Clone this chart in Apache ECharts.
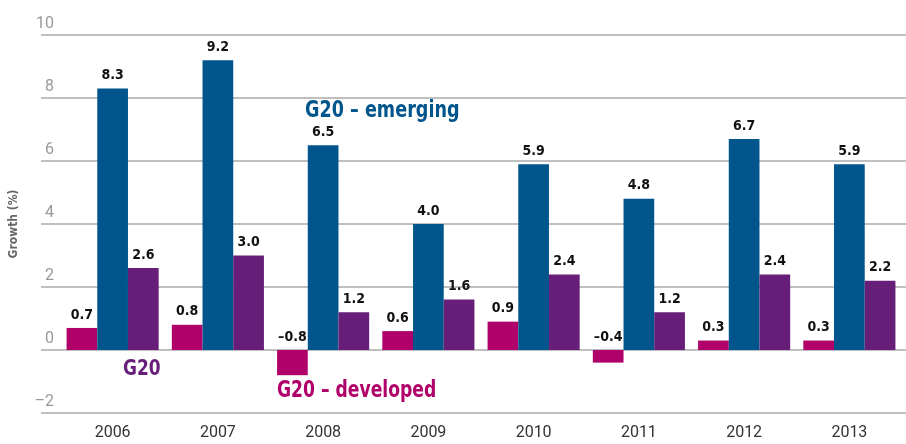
<!DOCTYPE html>
<html>
<head>
<meta charset="utf-8">
<script src="https://cdn.jsdelivr.net/npm/echarts@6/dist/echarts.min.js"></script>
<style>
  html, body { margin: 0; padding: 0; background: #fff; }
  #chart { width: 906px; height: 444px; }
</style>
</head>
<body>
<div id="chart"></div>
<script>
const years = ['2006', '2007', '2008', '2009', '2010', '2011', '2012', '2013']
const developed = [0.7, 0.8, -0.8, 0.6, 0.9, -0.4, 0.3, 0.3]
const emerging = [8.3, 9.2, 6.5, 4.0, 5.9, 4.8, 6.7, 5.9]
const g20 = [2.6, 3.0, 1.2, 1.6, 2.4, 1.2, 2.4, 2.2]

const narrow = '"Liberation Sans Narrow", "DejaVu Sans Condensed", "Roboto Condensed", Roboto, sans-serif'

const myChart = echarts.init(document.getElementById('chart'))

// bar value labels, en dash for negatives
const labelFmt = (p) => (p.value < 0 ? '\u2013' + Math.abs(p.value).toFixed(1) : p.value.toFixed(1))
const barLabel = {
  show: true,
  position: 'top',
  distance: 6,
  formatter: labelFmt,
  color: '#111',
  fontFamily: narrow,
  fontWeight: 'bold',
  fontSize: 14
}

const option = {
  animation: false,
  grid: [
    // wide grid, only for the horizontal rules
    { left: 35, right: 0, top: 35, bottom: 31 },
    // bars
    { left: 60, right: 4, top: 35, bottom: 31 }
  ],
  xAxis: [
    {
      gridIndex: 0,
      type: 'category',
      data: years,
      show: false
    },
    {
      gridIndex: 1,
      type: 'category',
      data: years,
      axisLine: { show: false },
      axisTick: { show: false },
      axisLabel: {
        color: '#333',
        fontSize: 16,
        fontFamily: 'Roboto, "Liberation Sans", sans-serif',
        margin: 12
      }
    }
  ],
  yAxis: [
    {
      gridIndex: 0,
      type: 'value',
      min: -2,
      max: 10,
      interval: 2,
      name: 'Growth (%)',
      nameLocation: 'middle',
      nameRotate: 90,
      nameGap: 21,
      nameTextStyle: {
        color: '#666',
        fontSize: 12,
        fontWeight: 'bold',
        fontFamily: narrow
      },
      axisLine: { show: false },
      axisTick: { show: false },
      axisLabel: {
        inside: true,
        margin: 13,
        align: 'right',
        verticalAlign: 'bottom',
        padding: [0, 0, 3, 0],
        color: '#999',
        fontSize: 16,
        fontFamily: 'Roboto, "Liberation Sans", sans-serif',
        formatter: (v) => (v < 0 ? '\u2013' + Math.abs(v) : String(v))
      },
      splitLine: {
        lineStyle: { color: '#aaa', width: 1.5 }
      }
    },
    {
      gridIndex: 1,
      type: 'value',
      min: -2,
      max: 10,
      interval: 2,
      show: false,
      splitLine: { show: false }
    }
  ],
  series: [
    {
      name: 'G20 – developed',
      type: 'bar',
      xAxisIndex: 1,
      yAxisIndex: 1,
      data: developed,
      barGap: '0%',
      barCategoryGap: '12.5%',
      itemStyle: { color: '#B0006A' },
      label: barLabel
    },
    {
      name: 'G20 – emerging',
      type: 'bar',
      xAxisIndex: 1,
      yAxisIndex: 1,
      data: emerging,
      itemStyle: { color: '#00558C' },
      label: barLabel
    },
    {
      name: 'G20',
      type: 'bar',
      xAxisIndex: 1,
      yAxisIndex: 1,
      data: g20,
      itemStyle: { color: '#661E78' },
      label: barLabel
    }
  ],
  // series name tags, condensed by scaleX since no narrow font is installed
  graphic: [
    {
      type: 'text',
      x: 305,
      y: 111,
      scaleX: 0.85,
      style: {
        text: 'G20 \u2013 emerging',
        fill: '#00558C',
        font: 'bold 23px ' + narrow,
        verticalAlign: 'middle'
      }
    },
    {
      type: 'text',
      x: 123,
      y: 369,
      scaleX: 0.86,
      style: {
        text: 'G20',
        fill: '#661E78',
        font: 'bold 22px ' + narrow,
        verticalAlign: 'middle'
      }
    },
    {
      type: 'text',
      x: 277,
      y: 391,
      scaleX: 0.83,
      style: {
        text: 'G20 \u2013 developed',
        fill: '#B0006A',
        font: 'bold 23px ' + narrow,
        verticalAlign: 'middle'
      }
    }
  ]
}

myChart.setOption(option)
window.addEventListener('resize', () => {
  myChart.resize()
})
</script>
</body>
</html>
